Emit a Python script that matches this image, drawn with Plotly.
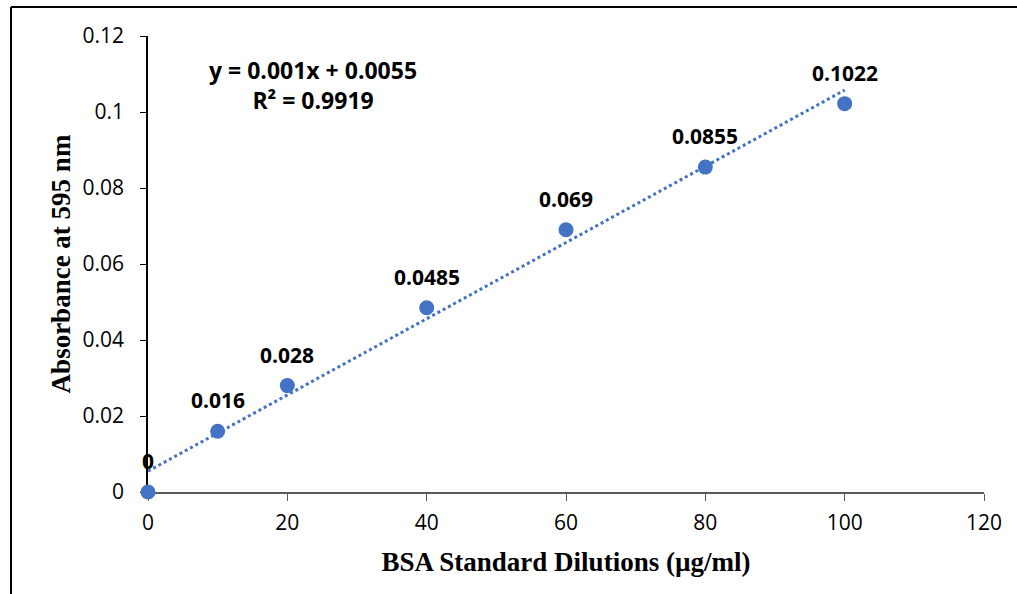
import numpy as np
import plotly.graph_objects as go

# Data
concentration = [0, 10, 20, 40, 60, 80, 100]
absorbance = [0, 0.016, 0.028, 0.0485, 0.069, 0.0855, 0.1022]
point_labels = ["0", "0.016", "0.028", "0.0485", "0.069", "0.0855", "0.1022"]
x_ticks = [0, 20, 40, 60, 80, 100, 120]
y_ticks = [0, 0.02, 0.04, 0.06, 0.08, 0.1, 0.12]
y_tick_text = ["0", "0.02", "0.04", "0.06", "0.08", "0.1", "0.12"]
equation_text = "y = 0.001x + 0.0055<br>R² = 0.9919"

BLUE = "#4472C4"
SANS = "Open Sans, Lato, DejaVu Sans, sans-serif"
SERIF = "Liberation Serif, Times New Roman, serif"

# Linear trendline from the data
slope, intercept = np.polyfit(concentration, absorbance, 1)
trend_x = [min(concentration), max(concentration)]
trend_y = [slope * v + intercept for v in trend_x]

fig = go.Figure()
fig.add_trace(go.Scatter(
    x=trend_x, y=trend_y, mode="lines",
    line=dict(color=BLUE, width=3, dash="dot"),
    hoverinfo="skip", showlegend=False,
))
fig.add_trace(go.Scatter(
    x=concentration, y=absorbance, mode="markers",
    marker=dict(color=BLUE, size=15),
    cliponaxis=False, showlegend=False,
))

for xv, yv, lab in zip(concentration, absorbance, point_labels):
    fig.add_annotation(
        x=xv, y=yv, text=lab, showarrow=False, yshift=31,
        font=dict(family=SANS, size=21, color="black", weight="bold"),
    )

fig.add_annotation(
    x=(313 - 148) / 836, y=(492 - 85) / 456, xref="paper", yref="paper",
    xanchor="center", yanchor="middle",
    text=equation_text, showarrow=False, align="center",
    font=dict(family=SANS, size=23, color="black", weight="bold"),
)

# Outer frame (left and top edges visible)
fig.add_shape(type="line", xref="paper", yref="paper",
              x0=(11 - 148) / 836, x1=(1030 - 148) / 836,
              y0=(492 - 7) / 456, y1=(492 - 7) / 456,
              line=dict(color="black", width=2))
fig.add_shape(type="line", xref="paper", yref="paper",
              x0=(11 - 148) / 836, x1=(11 - 148) / 836,
              y0=(492 - 7) / 456, y1=(492 - 610) / 456,
              line=dict(color="black", width=2))

fig.update_layout(
    width=1017, height=594,
    margin=dict(l=148, r=33, t=36, b=102),
    paper_bgcolor="white", plot_bgcolor="white",
    showlegend=False,
    xaxis=dict(
        range=[0, 120], tickvals=x_ticks, ticks="outside", ticklen=7,
        tickcolor="#595959", showline=True, linecolor="#595959", linewidth=1.5,
        showgrid=False, zeroline=False, ticklabelstandoff=4, layer="below traces",
        tickfont=dict(family=SANS, size=21, color="black"),
        title=dict(text="BSA Standard Dilutions (µg/ml)", standoff=17,
                   font=dict(family=SERIF, size=27, color="black", weight="bold")),
    ),
    yaxis=dict(
        range=[0, 0.12], tickvals=y_ticks, ticktext=y_tick_text,
        ticks="outside", ticklen=6, tickcolor="black",
        showline=True, linecolor="black", linewidth=1.5,
        showgrid=False, zeroline=False, ticklabelstandoff=12, layer="below traces",
        tickfont=dict(family=SANS, size=21, color="black"),
        title=dict(text="Absorbance at 595 nm", standoff=4,
                   font=dict(family=SERIF, size=27, color="black", weight="bold")),
    ),
)

fig.write_html("out.html", config={"displayModeBar": False},
               post_script="document.body.style.margin='0px';")
